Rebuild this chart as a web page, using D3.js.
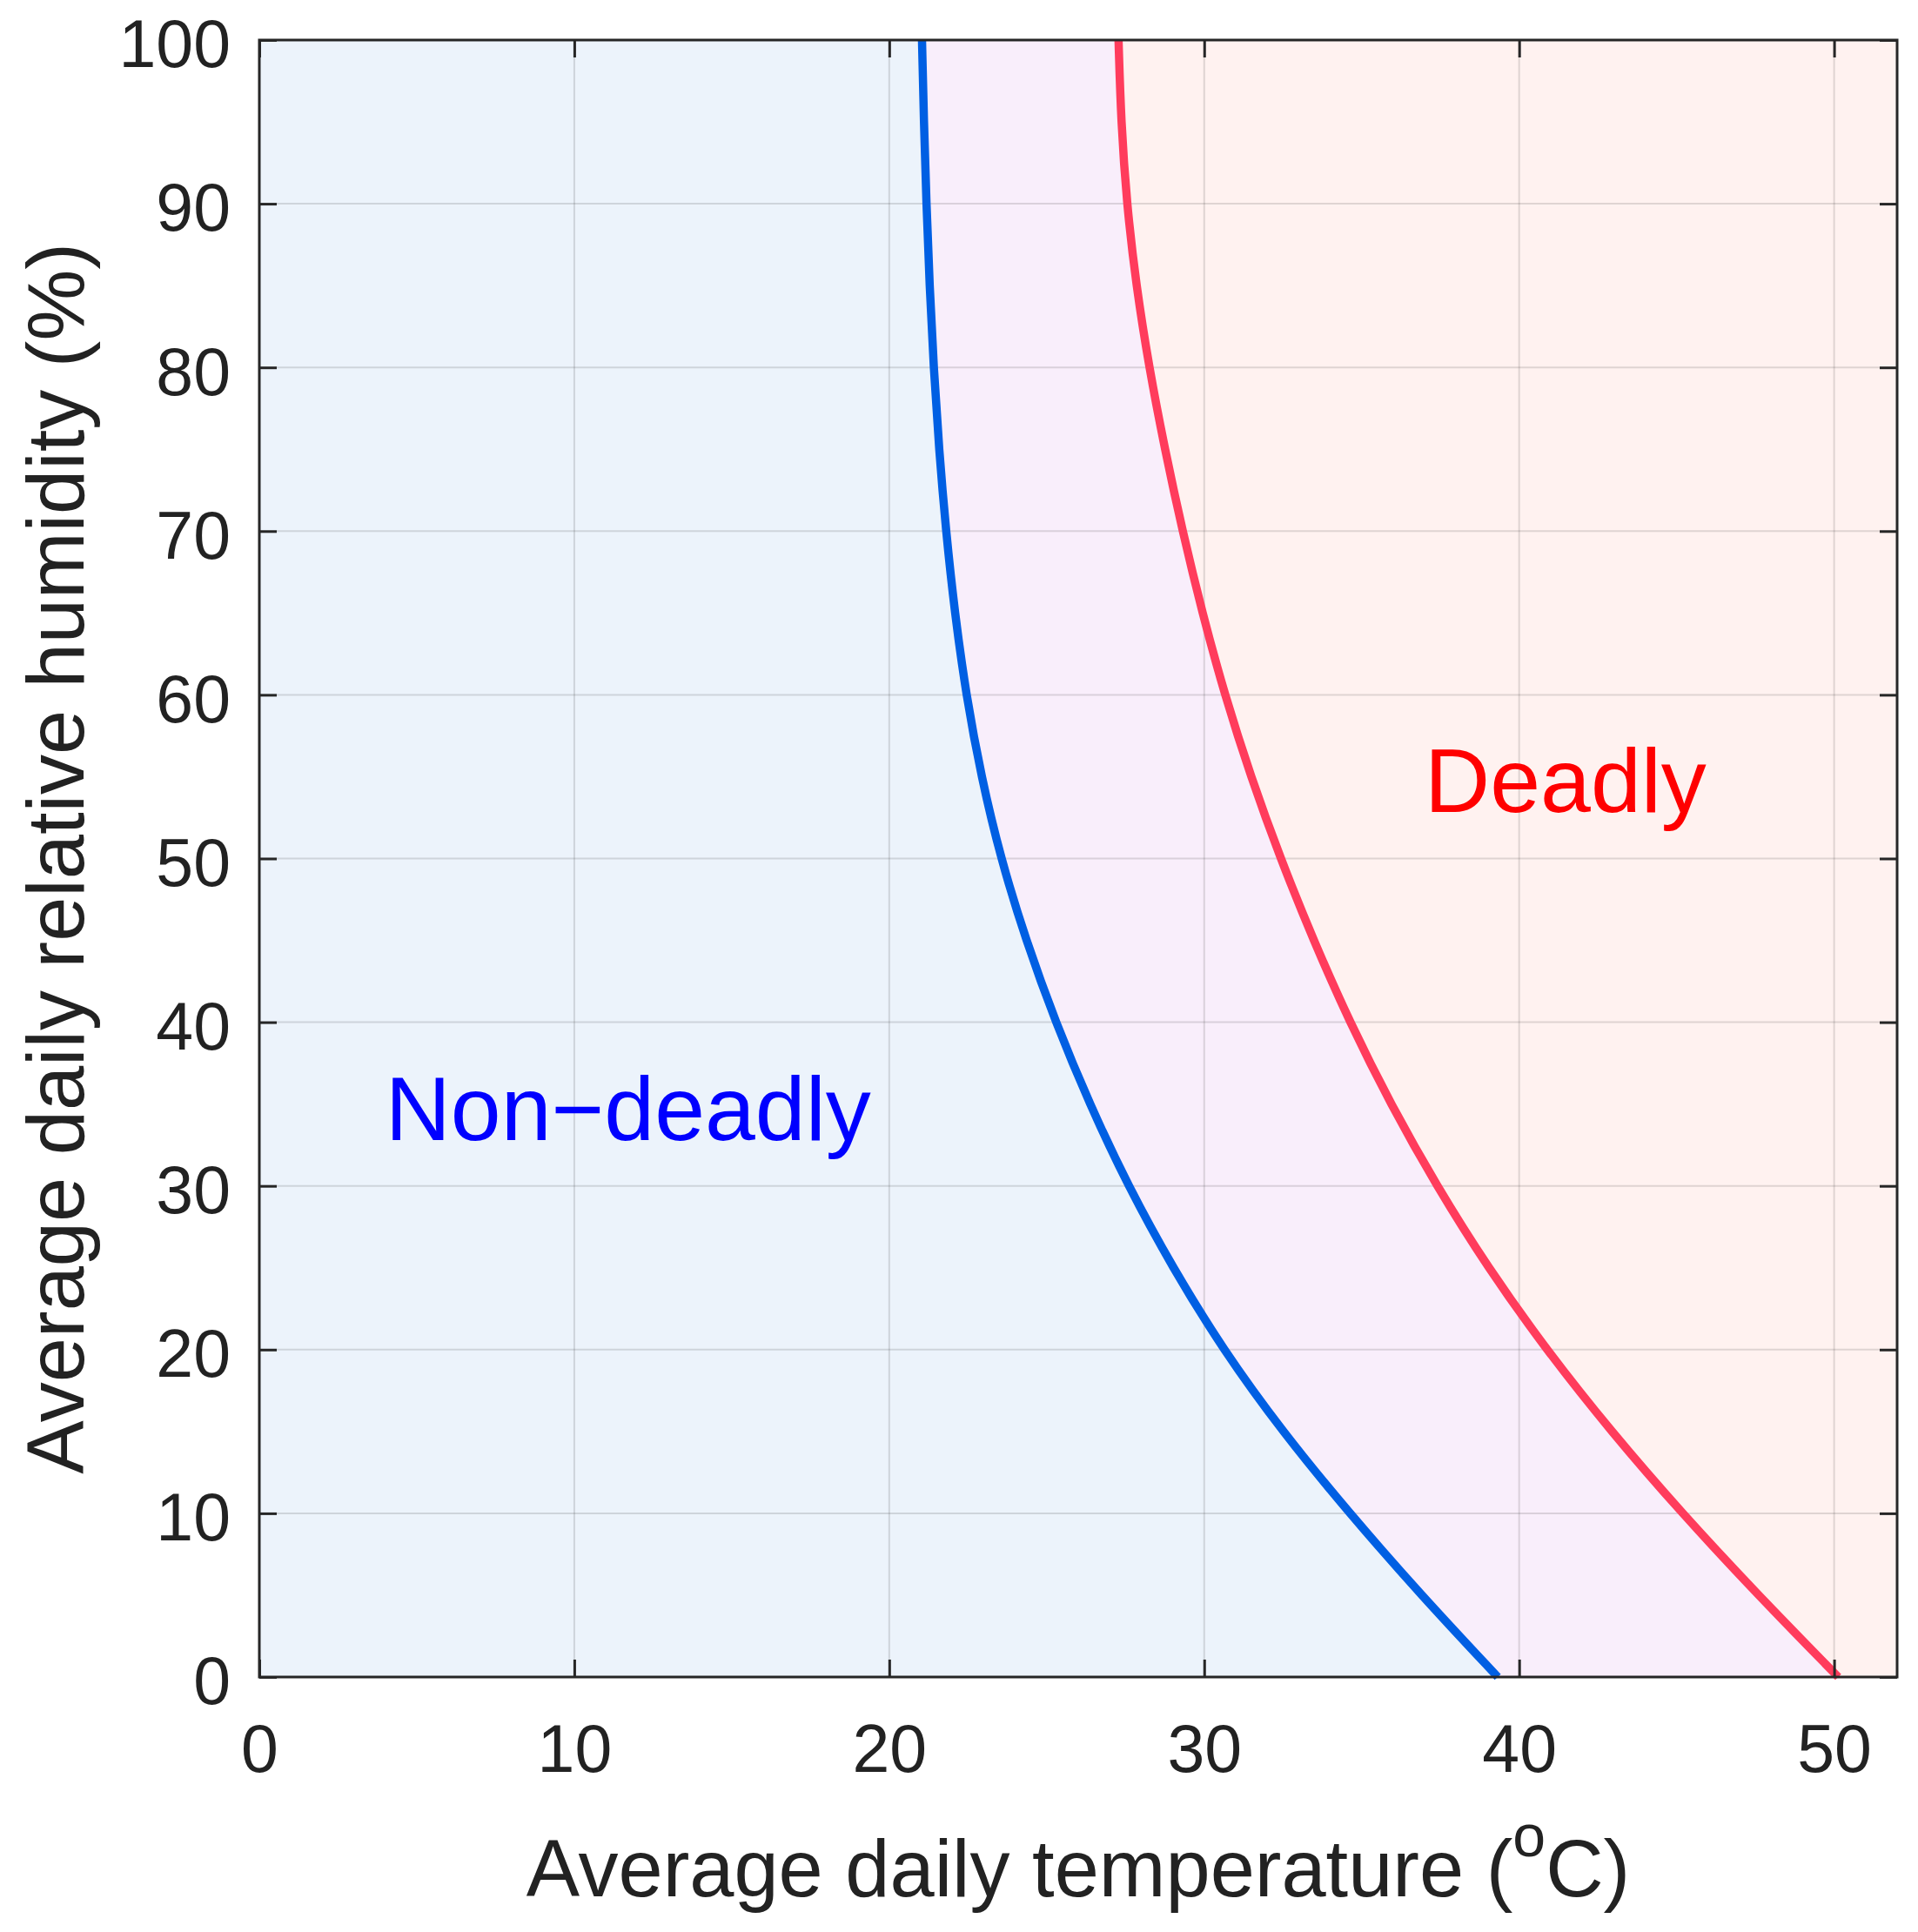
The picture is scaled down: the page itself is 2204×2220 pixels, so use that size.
<!DOCTYPE html>
<html>
<head>
<meta charset="utf-8">
<script src="https://cdn.jsdelivr.net/npm/d3@7"></script>
<style>
  html, body { margin: 0; padding: 0; background: #ffffff; }
  svg { display: block; }
  text { font-family: "Liberation Sans", Arial, Helvetica, sans-serif; }
</style>
</head>
<body>
<svg id="chart" width="2204" height="2220"></svg>
<script>
// ---- data ----
const humidity       = [100, 95, 90, 85, 80, 75, 70, 65, 60, 55, 50, 45, 40, 35, 30, 25, 20, 15, 10, 5, 0];
const nonDeadlyLimit = [21.04, 21.10, 21.18, 21.28, 21.41, 21.58, 21.80, 22.08, 22.44, 22.92, 23.54, 24.34, 25.28, 26.36, 27.58, 29.00, 30.60, 32.48, 34.61, 36.89, 39.32];
const deadlyLimit    = [27.28, 27.36, 27.54, 27.84, 28.25, 28.75, 29.31, 29.94, 30.65, 31.48, 32.42, 33.47, 34.62, 35.92, 37.38, 39.01, 40.86, 42.92, 45.17, 47.59, 50.13];
const xTicks = [0, 10, 20, 30, 40, 50];
const yTicks = [0, 10, 20, 30, 40, 50, 60, 70, 80, 90, 100];
const xDomain = [0, 52];
const yDomain = [0, 100];
const regionLabels = ["Non\u2212deadly", "Deadly"];
const xLabel = "Average daily temperature (";
const yLabelText = "Average daily relative humidity (%)";

// ---- layout ----
const L = 298, R = 2180, T = 46, B = 1927;
const svg = d3.select("#chart");
const x = d3.scaleLinear().domain(xDomain).range([L, R]);
const y = d3.scaleLinear().domain(yDomain).range([B, T]);

const blueRows = humidity.map((h, i) => ({ h, t: nonDeadlyLimit[i] }));
const redRows  = humidity.map((h, i) => ({ h, t: deadlyLimit[i] }));

// background regions
svg.append("rect").attr("x", L).attr("y", T).attr("width", R - L).attr("height", B - T)
  .attr("fill", "#fff2f0");

const area = d3.area().curve(d3.curveBasis)
  .y(d => y(d.h)).x0(x(0)).x1(d => x(d.t));
svg.append("path").datum(redRows).attr("d", area).attr("fill", "#f9eefb");
svg.append("path").datum(blueRows).attr("d", area).attr("fill", "#ecf3fb");

// grid
const grid = svg.append("g").attr("stroke", "#262626").attr("stroke-opacity", 0.15).attr("stroke-width", 2);
grid.selectAll(".gx").data(xTicks.filter(v => v > 0)).join("line")
  .attr("x1", d => x(d)).attr("x2", d => x(d)).attr("y1", T).attr("y2", B);
grid.selectAll(".gy").data(yTicks.filter(v => v > 0 && v < 100)).join("line")
  .attr("y1", d => y(d)).attr("y2", d => y(d)).attr("x1", L).attr("x2", R);

// curves
const line = d3.line().curve(d3.curveBasis).x(d => x(d.t)).y(d => y(d.h));
svg.append("path").datum(blueRows).attr("d", line).attr("fill", "none")
  .attr("stroke", "#005fe3").attr("stroke-width", 9.5);
svg.append("path").datum(redRows).attr("d", line).attr("fill", "none")
  .attr("stroke", "#ff3c5c").attr("stroke-width", 9.5);

// axes
const tickLen = 20;
function styleAxis(g) {
  g.select(".domain").remove();
  g.selectAll(".tick line").attr("stroke", "#262626").attr("stroke-width", 3);
  g.selectAll(".tick text").attr("fill", "#222").attr("font-size", 77)
    .attr("font-family", '"Liberation Sans", Arial, sans-serif');
}
svg.append("g").attr("transform", `translate(0,${B})`)
  .call(d3.axisBottom(x).tickValues(xTicks).tickSizeInner(-tickLen).tickSizeOuter(0).tickPadding(54).tickFormat(d3.format("d")))
  .call(styleAxis)
  .selectAll(".tick text").attr("dy", "0.71em");
svg.append("g").attr("transform", `translate(0,${T})`)
  .call(d3.axisTop(x).tickValues(xTicks).tickSizeInner(-tickLen).tickSizeOuter(0).tickFormat(""))
  .call(styleAxis);
svg.append("g").attr("transform", `translate(${L},0)`)
  .call(d3.axisLeft(y).tickValues(yTicks).tickSizeInner(-tickLen).tickSizeOuter(0).tickPadding(33).tickFormat(d3.format("d")))
  .call(styleAxis)
  .selectAll(".tick text").attr("dy", "0.40em");
svg.append("g").attr("transform", `translate(${R},0)`)
  .call(d3.axisRight(y).tickValues(yTicks).tickSizeInner(-tickLen).tickSizeOuter(0).tickFormat(""))
  .call(styleAxis);

// box
svg.append("rect").attr("x", L).attr("y", T).attr("width", R - L).attr("height", B - T)
  .attr("fill", "none").attr("stroke", "#262626").attr("stroke-width", 3);

// region labels
svg.append("text").attr("x", x(4.0)).attr("y", y(32.8))
  .attr("font-size", 104).attr("fill", "#0000ff").text(regionLabels[0]);
svg.append("text").attr("x", x(37.0)).attr("y", y(52.85))
  .attr("font-size", 104).attr("fill", "#ff0000").text(regionLabels[1]);

// axis labels
const xl = svg.append("text").attr("x", (L + R) / 2).attr("y", 2179)
  .attr("text-anchor", "middle").attr("font-size", 92).attr("fill", "#222");
xl.append("tspan").text(xLabel);
xl.append("tspan").attr("font-size", 68).attr("dy", -46).text("o");
xl.append("tspan").attr("dy", 46).text("C)");

svg.append("text")
  .attr("transform", `translate(96,${(T + B) / 2}) rotate(-90)`)
  .attr("text-anchor", "middle").attr("font-size", 92).attr("fill", "#222")
  .text(yLabelText);
</script>
</body>
</html>
